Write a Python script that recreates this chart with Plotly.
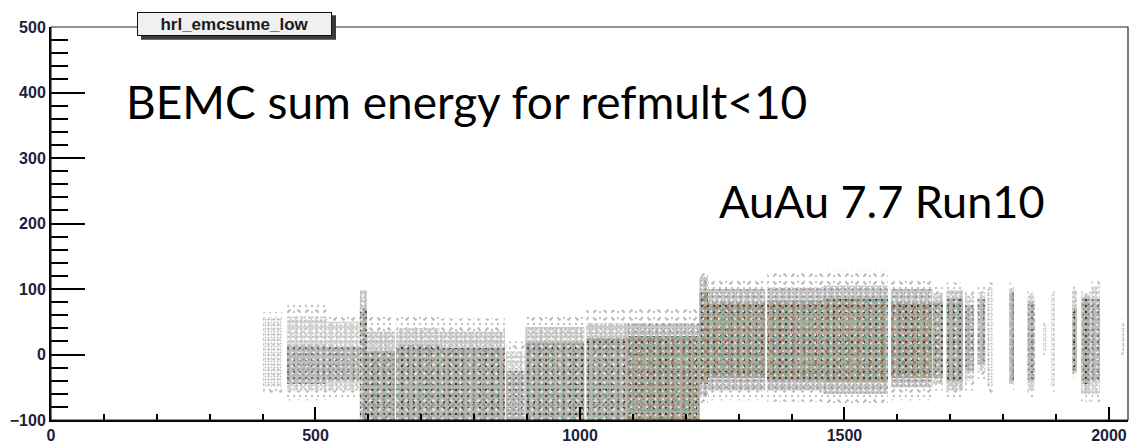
import plotly.graph_objects as go

# Run-index bands of the BEMC summed energy (run ranges and energy envelopes)
run_lo = [401, 446, 520, 584, 597, 653, 735, 860, 897, 1012, 1090, 1226, 1242, 1354, 1460, 1588,
          1668, 1693, 1728, 1752, 1769, 1812, 1846, 1876, 1891, 1931, 1948, 1967, 2023]
run_hi = [437, 520, 583, 597, 650, 735, 858, 895, 1008, 1090, 1226, 1242, 1350, 1460, 1582, 1666,
          1686, 1724, 1745, 1766, 1781, 1820, 1860, 1882, 1897, 1939, 1965, 1983, 2029]
# reach of the isolated outlier events
halo_lo = [-60, -70, -65, -100, -100, -100, -100, -100, -100, -100, -100, -80, -70, -72, -78, -70,
           -55, -65, -55, -40, -62, -55, -65, 0, -58, -35, -72, -72, -5]
halo_hi = [65, 78, 62, 100, 60, 62, 55, 20, 62, 68, 70, 125, 118, 125, 128, 115,
           105, 110, 100, 105, 110, 110, 100, 50, 100, 105, 100, 112, 55]
# outer envelope of the energy distribution
env_lo = [-50, -55, -55, -100, -100, -100, -100, -100, -100, -100, -100, -65, -55, -55, -60, -50,
          -45, -55, -40, -25, -50, -45, -55, 5, -50, -28, -60, -60, 2]
env_hi = [56, 58, 50, 98, 35, 40, 35, 5, 42, 48, 48, 118, 100, 102, 105, 100,
          94, 98, 90, 95, 100, 101, 92, 45, 92, 98, 92, 104, 48]
# densely populated core (None where the band is only sparsely filled)
core_lo = [None, -45, -40, -100, -100, -100, -100, -100, -100, -100, -100, -45, -35, -38, -42, -35,
           -35, -40, -25, -15, None, -40, -40, None, None, -25, -45, -40, None]
core_hi = [None, 15, 12, 70, 5, 15, 10, -25, 18, 25, 28, 95, 80, 82, 85, 80,
           80, 85, 75, 85, None, 95, 80, None, None, 70, 85, 85, None]
# occupancy level: 0 sparse, 1 medium, 2 dense, 3 very dense
level = [0, 1, 1, 2, 2, 2, 2, 1, 2, 2, 3, 3, 3, 3, 3, 3,
         2, 2, 1, 1, 0, 2, 1, 0, 0, 2, 2, 1, 0]

CLEAR = "rgba(0,0,0,0)"

# each style is a base fill followed by speckle overlays (colour, tile size, solidity)
halo_style = (CLEAR, [("#c2c2c2", 6, 0.12), ("#b5b5b5", 9, 0.07)])
env_style = {
    0: ("#ffffff", [("#c4c4c4", 3, 0.35), ("#b0b0b0", 5, 0.12)]),
    1: ("#d4d4d4", [("#ffffff", 5, 0.2), ("#ffffff", 7, 0.15), ("#b4b4b4", 4, 0.15)]),
    2: ("#cbcbcb", [("#ffffff", 5, 0.15), ("#ffffff", 7, 0.1), ("#adadad", 4, 0.15)]),
    3: ("#c8c8c8", [("#ffffff", 6, 0.12), ("#a8a8a8", 4, 0.18), ("#8a8a8a", 7, 0.08)]),
}
core_style = {
    1: ("#bdbdbb", [("#555555", 6, 0.1), ("#8a8a8a", 5, 0.15), ("#ffffff", 7, 0.08)]),
    2: ("#b7b6b1", [("#3a3a3a", 6, 0.12), ("#777777", 5, 0.15), ("#c9b48f", 7, 0.07),
                    ("#6fae9c", 11, 0.05), ("#e0e0e0", 9, 0.1)]),
    3: ("#aeaba0", [("#363636", 6, 0.12), ("#7a7a7a", 5, 0.14), ("#c7b18c", 7, 0.14),
                    ("#6fae9c", 9, 0.12), ("#a77a60", 11, 0.07), ("#d8d8d8", 8, 0.08)]),
}

fig = go.Figure()


def add_layer(idx, lo, hi, fill, fg=None, size=6, solidity=0.1):
    xs = [(run_lo[i] + run_hi[i]) / 2 for i in idx]
    ws = [run_hi[i] - run_lo[i] for i in idx]
    bs = [lo[i] for i in idx]
    hs = [hi[i] - lo[i] for i in idx]
    if fg is None:
        marker = dict(color=fill, line=dict(width=0))
    else:
        marker = dict(line=dict(width=0),
                      pattern=dict(shape=".", fgcolor=fg, bgcolor=CLEAR, size=size,
                                   solidity=solidity, fillmode="replace"))
    fig.add_trace(go.Bar(x=xs, y=hs, base=bs, width=ws, hoverinfo="skip", marker=marker))


def add_band(idx, lo, hi, style):
    base, overlays = style
    if base != CLEAR:
        add_layer(idx, lo, hi, base)
    for fg, size, sol in overlays:
        add_layer(idx, lo, hi, None, fg, size, sol)


add_band(list(range(len(level))), halo_lo, halo_hi, halo_style)

for lv in (0, 1, 2, 3):
    idx = [i for i in range(len(level)) if level[i] == lv]
    add_band(idx, env_lo, env_hi, env_style[lv])

for lv in (1, 2, 3):
    idx = [i for i in range(len(level)) if level[i] == lv and core_lo[i] is not None]
    add_band(idx, core_lo, core_hi, core_style[lv])

tick_font = dict(family="Liberation Sans, Arial, sans-serif", size=16, color="#1e1e3c", weight="bold")

fig.update_layout(
    width=1132, height=448,
    margin=dict(l=51, r=4, t=27, b=18),
    paper_bgcolor="white", plot_bgcolor="white",
    barmode="overlay", showlegend=False,
    xaxis=dict(range=[0, 2036], showgrid=False, zeroline=False,
               showline=True, linecolor="black", linewidth=2,
               ticks="inside", ticklen=13, tickwidth=1.5, tickcolor="black",
               tick0=0, dtick=500, tickfont=tick_font,
               minor=dict(ticks="inside", ticklen=6, dtick=100, tickwidth=1.5, tickcolor="black")),
    yaxis=dict(range=[-100, 500], showgrid=False, zeroline=False,
               showline=True, linecolor="black", linewidth=2,
               ticks="inside", ticklen=34, tickwidth=1.5, tickcolor="black",
               tick0=0, dtick=100, tickfont=tick_font,
               minor=dict(ticks="inside", ticklen=17, dtick=20, tickwidth=1.5, tickcolor="black")),
    shapes=[
        dict(type="rect", xref="paper", yref="paper", x0=0, x1=1, y0=0, y1=1,
             line=dict(color="#222222", width=1.2), layer="above"),
        # drop shadow of the histogram name box
        dict(type="rect", xref="paper", yref="paper",
             x0=(141 - 51) / 1077, x1=(336 - 51) / 1077,
             y0=(430 - 40) / 403, y1=(430 - 15) / 403,
             fillcolor="#3a3a3a", line=dict(width=0), layer="above"),
    ],
    annotations=[
        dict(text="hrl_emcsume_low", xref="paper", yref="paper",
             x=(234.5 - 51) / 1077, y=(430 - 24) / 403, xanchor="center", yanchor="middle",
             showarrow=False, width=193, height=22, bgcolor="#f0f0f0",
             bordercolor="#111111", borderwidth=1, borderpad=0,
             font=dict(family="Liberation Sans, Arial, sans-serif", size=17,
                       color="#1a1a1a", weight="bold")),
        dict(text="BEMC sum energy for refmult<10", xref="paper", yref="paper",
             x=(124 - 51) / 1077, y=(430 - 103) / 403, xanchor="left", yanchor="middle",
             showarrow=False,
             font=dict(family="Lato, sans-serif", size=46, color="black")),
        dict(text="AuAu 7.7 Run10", xref="paper", yref="paper",
             x=(717 - 51) / 1077, y=(430 - 205) / 403, xanchor="left", yanchor="middle",
             showarrow=False,
             font=dict(family="Lato, sans-serif", size=45, color="black")),
    ],
)

fig.write_html("out.html")
